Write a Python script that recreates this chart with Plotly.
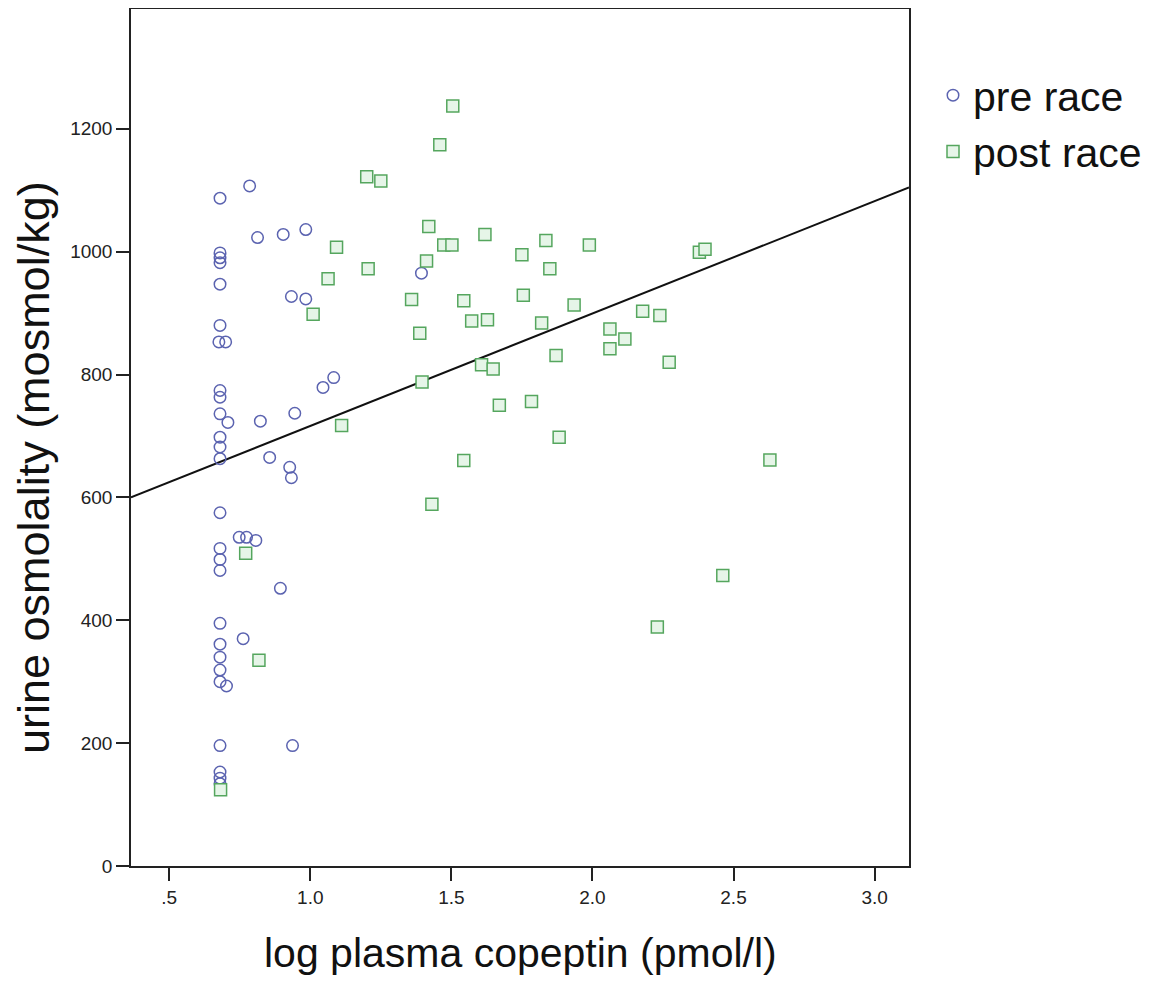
import plotly.graph_objects as go

# ---- data ----
pre_x = [0.68, 0.68, 0.68, 0.68, 0.68, 0.68, 0.676, 0.70, 0.68, 0.68, 0.68, 0.708, 0.68, 0.68, 0.68,
         0.68, 0.68, 0.68, 0.68, 0.68, 0.68, 0.68, 0.68, 0.68, 0.703, 0.68, 0.68, 0.68, 0.68,
         0.785, 0.813, 0.904, 0.984, 0.933, 0.984, 1.045, 1.083, 0.823, 0.945, 0.856, 0.927, 0.933,
         0.748, 0.774, 0.807, 0.894, 0.762, 0.937, 1.394]
pre_y = [1087, 998, 990, 982, 947, 880, 853, 853, 774, 763, 736, 722, 698, 682, 663,
         575, 517, 499, 481, 395, 361, 340, 319, 300, 293, 196, 153, 143, 134,
         1107, 1023, 1028, 1036, 927, 923, 779, 795, 724, 737, 665, 649, 632,
         535, 535, 530, 452, 370, 196, 965]

post_x = [1.505, 1.459, 1.200, 1.250, 1.093, 1.420, 1.473, 1.502, 1.412, 1.205, 1.063, 1.619, 1.359,
          1.544, 1.010, 1.388, 1.572, 1.628, 1.111, 1.607, 1.648, 1.396, 1.670, 1.544, 1.431, 0.771,
          0.818, 0.682,
          1.835, 1.989, 1.750, 1.849, 1.755, 1.935, 1.820, 2.178, 2.239, 2.062, 2.115, 2.062, 1.871,
          2.272, 2.379, 2.399, 1.784, 1.882, 2.230, 2.462, 2.629]
post_y = [1237, 1174, 1122, 1115, 1007, 1041, 1011, 1011, 985, 972, 956, 1028, 922,
          920, 898, 867, 887, 889, 717, 816, 809, 788, 750, 660, 589, 509,
          335, 124,
          1018, 1011, 995, 972, 929, 913, 884, 903, 896, 874, 858, 842, 831,
          820, 999, 1004, 756, 698, 389, 473, 661]

# fit line
fit_intercept = 533.3
fit_slope = 183.0
x_range = [0.3645, 3.122]
y_range = [0, 1395]

x_tickvals = [0.5, 1.0, 1.5, 2.0, 2.5, 3.0]
x_ticktext = [".5", "1.0", "1.5", "2.0", "2.5", "3.0"]
y_tickvals = [0, 200, 400, 600, 800, 1000, 1200]
y_ticktext = ["0", "200", "400", "600", "800", "1000", "1200"]

x_title = "log plasma copeptin (pmol/l)"
y_title = "urine osmolality (mosmol/kg)"
series_names = ["pre race", "post race"]

FONT = "Liberation Sans, Arial, sans-serif"

fit_x = x_range
fit_y = [fit_intercept + fit_slope * v for v in fit_x]

fig = go.Figure()
fig.add_trace(go.Scatter(
    x=fit_x, y=fit_y, mode="lines", line=dict(color="#111111", width=2),
    showlegend=False, hoverinfo="skip"))
fig.add_trace(go.Scatter(
    x=pre_x, y=pre_y, mode="markers", name=series_names[0],
    marker=dict(symbol="circle-open", size=11.5, color="#5b63b0",
                line=dict(width=1.5, color="#5b63b0"))))
fig.add_trace(go.Scatter(
    x=post_x, y=post_y, mode="markers", name=series_names[1],
    marker=dict(symbol="square", size=12, color="#e6f5e8",
                line=dict(width=1.5, color="#55a65e"))))

# page has an 8px body margin; figure sized to fit inside the window
OFF = 8
W, H = 1165 - 2 * OFF, 983 - 2 * OFF
L, R, T, B = 131 - OFF, W - (909 - OFF), 1, H - (866 - OFF)
pw, ph = W - L - R, H - T - B


def px_x(page_x):
    return (page_x - OFF - L) / pw


def px_y(page_y):
    return (H - B - (page_y - OFF)) / ph


fig.update_layout(
    width=W, height=H,
    margin=dict(l=L, r=R, t=T, b=B, autoexpand=False),
    plot_bgcolor="white", paper_bgcolor="white",
    font=dict(family=FONT, color="#111111"),
    legend=dict(x=px_x(933), xanchor="left", y=px_y(62), yanchor="top",
                font=dict(size=41, family=FONT, color="#111111"),
                bgcolor="rgba(0,0,0,0)", tracegroupgap=0),
)
fig.update_xaxes(
    range=x_range, tickvals=x_tickvals, ticktext=x_ticktext,
    showgrid=False, zeroline=False, showline=True, mirror=True,
    linecolor="#222222", linewidth=1.5, ticks="outside", ticklen=13,
    tickcolor="#222222", tickwidth=1.5,
    tickfont=dict(size=19, family=FONT, color="#222222"))
fig.update_yaxes(
    range=y_range, tickvals=y_tickvals, ticktext=y_ticktext,
    showgrid=False, zeroline=False, showline=True, mirror=True,
    linecolor="#222222", linewidth=1.5, ticks="outside", ticklen=13,
    tickcolor="#222222", tickwidth=1.5,
    tickfont=dict(size=19, family=FONT, color="#222222"))

fig.add_annotation(text=x_title, xref="paper", yref="paper",
                   x=0.5, y=px_y(953), xanchor="center", yanchor="middle",
                   showarrow=False, font=dict(size=41, family=FONT, color="#111111"))
fig.add_annotation(text=y_title, xref="paper", yref="paper",
                   x=px_x(33), y=px_y(468), xanchor="center", yanchor="middle",
                   textangle=-90, showarrow=False,
                   font=dict(size=45, family=FONT, color="#111111"))

fig.write_html("out.html")
